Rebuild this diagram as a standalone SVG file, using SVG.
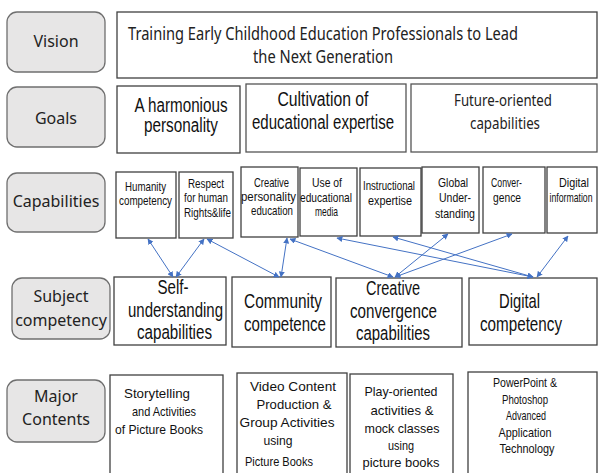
<svg xmlns="http://www.w3.org/2000/svg" width="598" height="473" viewBox="0 0 598 473">
<defs>
<style>
.lab{fill:#e7e6e6;stroke:#6f6f6f;stroke-width:1.3}
.box{fill:#fff;stroke:#404040;stroke-width:1.3}
.lt{font-family:"Noto Sans","Open Sans",sans-serif;font-size:16px;fill:#222;text-anchor:middle}
.vt{font-family:"Noto Sans","Open Sans",sans-serif;font-size:17.5px;fill:#222;text-anchor:middle}
.gt{font-family:"Liberation Sans",Arial,sans-serif;font-size:19.5px;fill:#111;text-anchor:middle}
.ft{font-family:"Noto Sans","Open Sans",sans-serif;font-size:16.5px;fill:#222;text-anchor:middle}
.ct{font-family:"Liberation Sans",Arial,sans-serif;font-size:13px;fill:#111;text-anchor:middle}
.st{font-family:"Liberation Sans",Arial,sans-serif;font-size:20.5px;fill:#111;text-anchor:middle}
.mt{font-family:"Liberation Sans",Arial,sans-serif;font-size:13.5px;fill:#111;text-anchor:middle}
.ar{stroke:#4472c4;stroke-width:1;fill:none;marker-start:url(#ah);marker-end:url(#ah)}
</style>
<marker id="ah" viewBox="0 0 10 10" refX="9" refY="5" markerWidth="6" markerHeight="6" markerUnits="userSpaceOnUse" orient="auto-start-reverse">
<path d="M0,0 L10,5 L0,10 z" fill="#4472c4"/>
</marker>
</defs>
<rect width="598" height="473" fill="#fff"/>

<g id="label-vision"><rect class="lab" x="7" y="12" width="98" height="60" rx="10"/><text class="lt" x="56" y="47">Vision</text></g>
<g id="label-goals"><rect class="lab" x="7" y="87" width="98" height="60" rx="10"/><text class="lt" x="56" y="124">Goals</text></g>
<g id="label-capabilities"><rect class="lab" x="7" y="173" width="98" height="59" rx="10"/><text class="lt" x="56" y="207">Capabilities</text></g>
<g id="label-subject"><rect class="lab" x="12" y="278" width="98" height="61" rx="10"/><text class="lt" x="61" y="302">Subject</text><text class="lt" x="61" y="326">competency</text></g>
<g id="label-major"><rect class="lab" x="7" y="380" width="98" height="62" rx="10"/><text class="lt" x="56" y="402">Major</text><text class="lt" x="56" y="425">Contents</text></g>

<g id="vision"><rect class="box" x="117" y="12" width="480" height="66"/>
<text class="vt" x="323" y="40" textLength="390" lengthAdjust="spacingAndGlyphs">Training Early Childhood Education Professionals to Lead</text>
<text class="vt" x="323" y="63" textLength="140" lengthAdjust="spacingAndGlyphs">the Next Generation</text></g>

<g id="goal-harmonious"><rect class="box" x="117" y="86" width="123" height="67"/>
<text class="gt" x="181" y="112" textLength="93" lengthAdjust="spacingAndGlyphs">A harmonious</text>
<text class="gt" x="181" y="132" textLength="74" lengthAdjust="spacingAndGlyphs">personality</text></g>
<g id="goal-cultivation"><rect class="box" x="246" y="84" width="160" height="68" style="stroke:#555"/>
<text class="gt" x="323" y="106" textLength="91" lengthAdjust="spacingAndGlyphs">Cultivation of</text>
<text class="gt" x="323" y="129" textLength="142" lengthAdjust="spacingAndGlyphs">educational expertise</text></g>
<g id="goal-future"><rect class="box" x="411" y="84" width="186" height="68" style="stroke:#555"/>
<text class="ft" x="503" y="106" textLength="98" lengthAdjust="spacingAndGlyphs">Future-oriented</text>
<text class="ft" x="505" y="129" textLength="70" lengthAdjust="spacingAndGlyphs">capabilities</text></g>

<g id="cap-humanity"><rect class="box" x="116" y="172" width="60" height="66"/>
<text class="ct" x="145.5" y="191" textLength="41" lengthAdjust="spacingAndGlyphs">Humanity</text>
<text class="ct" x="145.5" y="205" textLength="53" lengthAdjust="spacingAndGlyphs">competency</text></g>
<g id="cap-respect"><rect class="box" x="179" y="172" width="54" height="66"/>
<text class="ct" x="206" y="188" textLength="36" lengthAdjust="spacingAndGlyphs">Respect</text>
<text class="ct" x="206" y="202" textLength="44" lengthAdjust="spacingAndGlyphs">for human</text>
<text class="ct" x="207.5" y="217" textLength="47" lengthAdjust="spacingAndGlyphs">Rights&amp;life</text></g>
<g id="cap-creative"><rect class="box" x="241" y="167" width="57" height="70"/>
<text class="ct" x="271.5" y="187" textLength="35" lengthAdjust="spacingAndGlyphs">Creative</text>
<text class="ct" x="268.5" y="201" textLength="55" lengthAdjust="spacingAndGlyphs">personality</text>
<text class="ct" x="272" y="215" textLength="42" lengthAdjust="spacingAndGlyphs">education</text></g>
<g id="cap-media"><rect class="box" x="300" y="168" width="57" height="68"/>
<text class="ct" x="327" y="187" textLength="30" lengthAdjust="spacingAndGlyphs">Use of</text>
<text class="ct" x="326" y="202" textLength="52" lengthAdjust="spacingAndGlyphs">educational</text>
<text class="ct" x="326.5" y="216" textLength="23" lengthAdjust="spacingAndGlyphs">media</text></g>
<g id="cap-instructional"><rect class="box" x="360" y="168" width="61" height="68"/>
<text class="ct" x="389" y="190" textLength="52" lengthAdjust="spacingAndGlyphs">Instructional</text>
<text class="ct" x="390" y="205" textLength="44" lengthAdjust="spacingAndGlyphs">expertise</text></g>
<g id="cap-global"><rect class="box" x="422" y="167" width="57" height="66"/>
<text class="ct" x="453" y="187" textLength="30" lengthAdjust="spacingAndGlyphs">Global</text>
<text class="ct" x="455" y="202" textLength="32" lengthAdjust="spacingAndGlyphs">Under-</text>
<text class="ct" x="455" y="218" textLength="40" lengthAdjust="spacingAndGlyphs">standing</text></g>
<g id="cap-convergence"><rect class="box" x="483" y="167" width="62" height="66"/>
<text class="ct" x="506.5" y="187" textLength="31" lengthAdjust="spacingAndGlyphs">Conver-</text>
<text class="ct" x="507" y="202" textLength="28" lengthAdjust="spacingAndGlyphs">gence</text></g>
<g id="cap-digital"><rect class="box" x="547" y="167" width="50" height="66"/>
<text class="ct" x="574" y="187" textLength="30" lengthAdjust="spacingAndGlyphs">Digital</text>
<text class="ct" x="571" y="202" textLength="43" lengthAdjust="spacingAndGlyphs">information</text></g>

<g id="sub-self"><rect class="box" x="114" y="277" width="112" height="68"/>
<text class="st" x="173" y="294" textLength="31" lengthAdjust="spacingAndGlyphs">Self-</text>
<text class="st" x="175.5" y="317" textLength="95" lengthAdjust="spacingAndGlyphs">understanding</text>
<text class="st" x="174.5" y="339" textLength="75" lengthAdjust="spacingAndGlyphs">capabilities</text></g>
<g id="sub-community"><rect class="box" x="232" y="277" width="99" height="70"/>
<text class="st" x="283" y="308" textLength="78" lengthAdjust="spacingAndGlyphs">Community</text>
<text class="st" x="285" y="331" textLength="82" lengthAdjust="spacingAndGlyphs">competence</text></g>
<g id="sub-creative"><rect class="box" x="336" y="278" width="126" height="69"/>
<text class="st" x="393" y="295" textLength="54" lengthAdjust="spacingAndGlyphs">Creative</text>
<text class="st" x="393.5" y="318" textLength="87" lengthAdjust="spacingAndGlyphs">convergence</text>
<text class="st" x="393" y="340" textLength="74" lengthAdjust="spacingAndGlyphs">capabilities</text></g>
<g id="sub-digital"><rect class="box" x="469" y="278" width="128" height="67"/>
<text class="st" x="519.5" y="308" textLength="41" lengthAdjust="spacingAndGlyphs">Digital</text>
<text class="st" x="521" y="331" textLength="82" lengthAdjust="spacingAndGlyphs">competency</text></g>

<g id="major-storytelling"><rect class="box" x="110" y="375" width="113" height="110"/>
<text class="mt" x="157" y="398" textLength="66" lengthAdjust="spacingAndGlyphs">Storytelling</text>
<text class="mt" x="164" y="416" textLength="64" lengthAdjust="spacingAndGlyphs">and Activities</text>
<text class="mt" x="159" y="434" textLength="88" lengthAdjust="spacingAndGlyphs">of Picture Books</text></g>
<g id="major-video"><rect class="box" x="237" y="373" width="110" height="110"/>
<text class="mt" x="293" y="391" textLength="86" lengthAdjust="spacingAndGlyphs">Video Content</text>
<text class="mt" x="294" y="409" textLength="75" lengthAdjust="spacingAndGlyphs">Production &amp;</text>
<text class="mt" x="287" y="427" textLength="95" lengthAdjust="spacingAndGlyphs">Group Activities</text>
<text class="mt" x="278" y="445" textLength="29" lengthAdjust="spacingAndGlyphs">using</text>
<text class="mt" x="279" y="466" textLength="68" lengthAdjust="spacingAndGlyphs">Picture Books</text></g>
<g id="major-play"><rect class="box" x="350" y="374" width="103" height="110"/>
<text class="mt" x="401" y="396" textLength="73" lengthAdjust="spacingAndGlyphs">Play-oriented</text>
<text class="mt" x="402" y="415" textLength="63" lengthAdjust="spacingAndGlyphs">activities &amp;</text>
<text class="mt" x="402" y="433" textLength="75" lengthAdjust="spacingAndGlyphs">mock classes</text>
<text class="mt" x="401" y="450" textLength="26" lengthAdjust="spacingAndGlyphs">using</text>
<text class="mt" x="401" y="467" textLength="77" lengthAdjust="spacingAndGlyphs">picture books</text></g>
<g id="major-powerpoint"><rect class="box" x="468" y="372" width="129" height="110"/>
<text class="mt" x="525" y="387" textLength="64" lengthAdjust="spacingAndGlyphs">PowerPoint &amp;</text>
<text class="mt" x="525" y="404" textLength="46" lengthAdjust="spacingAndGlyphs">Photoshop</text>
<text class="mt" x="526" y="420" textLength="40" lengthAdjust="spacingAndGlyphs">Advanced</text>
<text class="mt" x="525" y="437" textLength="53" lengthAdjust="spacingAndGlyphs">Application</text>
<text class="mt" x="527" y="453" textLength="55" lengthAdjust="spacingAndGlyphs">Technology</text></g>

<g id="connectors">
<line class="ar" x1="148" y1="239" x2="173" y2="277"/>
<line class="ar" x1="204" y1="239" x2="176" y2="277"/>
<line class="ar" x1="207" y1="239" x2="279" y2="277"/>
<line class="ar" x1="287" y1="238" x2="281" y2="277"/>
<line class="ar" x1="290" y1="239" x2="393" y2="277"/>
<line class="ar" x1="337" y1="238" x2="533" y2="277"/>
<line class="ar" x1="393" y1="237" x2="533" y2="277"/>
<line class="ar" x1="448" y1="234" x2="395" y2="277"/>
<line class="ar" x1="512" y1="234" x2="395" y2="277"/>
<line class="ar" x1="568" y1="236" x2="537" y2="277"/>
</g>
</svg>
